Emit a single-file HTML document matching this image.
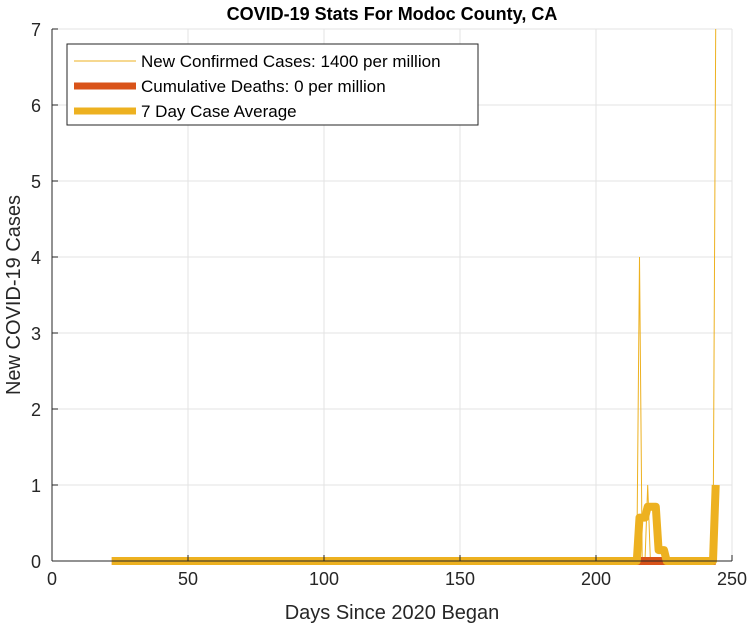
<!DOCTYPE html>
<html><head><meta charset="utf-8"><style>
body{margin:0;background:#fff;}
svg{display:block;font-family:"Liberation Sans",Arial,sans-serif;}
</style></head><body>
<svg id="chart" width="749" height="630" viewBox="0 0 749 630">
<text x="392" y="20" text-anchor="middle" font-size="18" font-weight="bold">COVID-19 Stats For Modoc County, CA</text>
<g id="grid"></g><g id="series"></g><g id="axes"></g>
<text x="392" y="619" text-anchor="middle" font-size="20" fill="#262626">Days Since 2020 Began</text>
<text transform="translate(20,295) rotate(-90)" text-anchor="middle" font-size="20" fill="#262626">New COVID-19 Cases</text>
<g>
<rect x="67" y="44" width="411" height="81" fill="#fff" stroke="#262626" stroke-width="1"/>
<line x1="74" y1="61" x2="136" y2="61" stroke="#EDB120" stroke-width="1"/>
<text x="141" y="67" font-size="17" fill="#000">New Confirmed Cases: 1400 per million</text>
<line x1="74" y1="86" x2="136" y2="86" stroke="#D95319" stroke-width="7"/>
<text x="141" y="92" font-size="17" fill="#000">Cumulative Deaths: 0 per million</text>
<line x1="74" y1="111" x2="136" y2="111" stroke="#EDB120" stroke-width="7"/>
<text x="141" y="117" font-size="17" fill="#000">7 Day Case Average</text>
</g>
</svg>
<script>
const startDay = 22;
const endDay = 244;
const caseDays = [216, 219, 244];
const caseValues = [4, 1, 7];
const deathValue = 0;
const xTicks = [0, 50, 100, 150, 200, 250];
const yTicks = [0, 1, 2, 3, 4, 5, 6, 7];

const X0=52, X1=732, Y0=561, Y1=29;
const xs = d => X0 + (d/250)*(X1-X0);
const ys = v => Y0 - (v/7)*(Y0-Y1);
const NS="http://www.w3.org/2000/svg";
function mk(tag, attrs, parent){const e=document.createElementNS(NS,tag);for(const k in attrs)e.setAttribute(k,attrs[k]);parent.appendChild(e);return e;}

const grid=document.getElementById('grid'), axes=document.getElementById('axes'), series=document.getElementById('series');
xTicks.forEach(t=>{
  const g=mk('line',{x1:xs(t),x2:xs(t),y1:Y1,y2:Y0,stroke:'#e3e3e3','stroke-width':1},grid);
  
  
  const tx=mk('text',{x:xs(t),y:Y0+24,'text-anchor':'middle','font-size':18,fill:'#262626'},axes);
  tx.textContent=t;
  
  
  mk('line',{x1:xs(t),x2:xs(t),y1:Y0,y2:Y0-6,stroke:'#262626'},axes);
});
yTicks.forEach(t=>{
  const g=mk('line',{x1:X0,x2:X1,y1:ys(t),y2:ys(t),stroke:'#e3e3e3','stroke-width':1},grid);
  
  
  const tx=mk('text',{x:X0-11,y:ys(t)+7,'text-anchor':'end','font-size':18,fill:'#262626'},axes);
  tx.textContent=t;
  
  
  mk('line',{x1:X0,x2:X0+6,y1:ys(t),y2:ys(t),stroke:'#262626'},axes);
});
mk('line',{x1:X0,x2:X0,y1:Y1,y2:Y0,stroke:'#262626'},axes);
mk('line',{x1:X0,x2:X1,y1:Y0,y2:Y0,stroke:'#262626'},axes);

const days=[], cases=[];
for(let d=startDay; d<=endDay; d++){days.push(d); const i=caseDays.indexOf(d); cases.push(i>=0?caseValues[i]:0);}
const avg=cases.map((c,i)=>{let s=0;for(let k=Math.max(0,i-6);k<=i;k++)s+=cases[k];return s/7;});
const pts=arr=>arr.map((v,i)=>xs(days[i]).toFixed(1)+','+ys(v).toFixed(1)).join(' ');

const cl=mk('polyline',{points:pts(cases),fill:'none',stroke:'#EDB120','stroke-width':1},series);


const dl=mk('polyline',{points:pts(days.map(()=>deathValue)),fill:'none',stroke:'#D95319','stroke-width':8},series);


const al=mk('polyline',{points:pts(avg),fill:'none',stroke:'#EDB120','stroke-width':8,'stroke-linejoin':'round'},series);


</script>
</body></html>
